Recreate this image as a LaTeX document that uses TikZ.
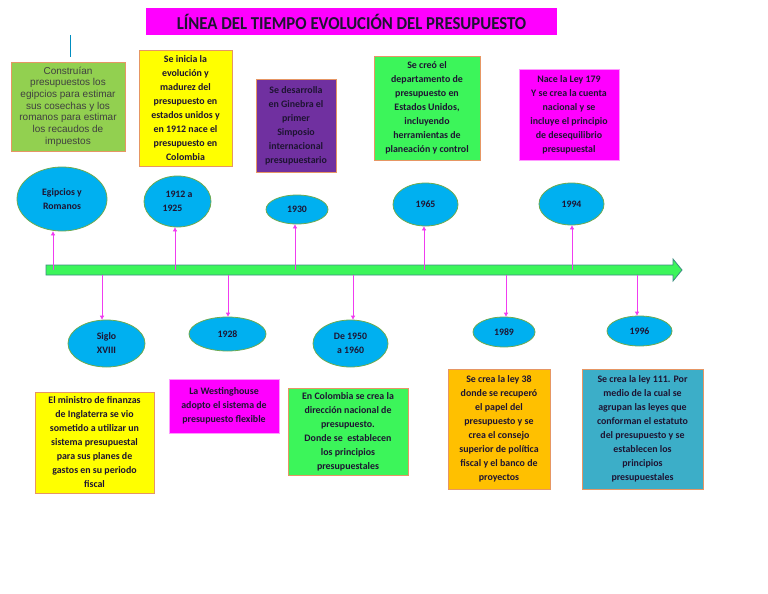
\documentclass[tikz,border=0pt]{standalone}
\usepackage{fontspec}
\setmainfont{Carlito}
\newfontfamily\arialfont{Liberation Sans}
\newfontfamily\titulofont[FakeStretch=0.92]{Carlito}
\usetikzlibrary{shapes.geometric, arrows.meta, positioning}
\definecolor{tinta}{RGB}{30,20,50}
\definecolor{celeste}{RGB}{0,176,240}
\definecolor{bordeverde}{RGB}{110,170,80}
\definecolor{bordenaranja}{RGB}{230,150,100}
\definecolor{rosa}{RGB}{240,60,240}
\definecolor{magenta}{RGB}{255,0,255}
\definecolor{amarillo}{RGB}{255,255,0}
\definecolor{oliva}{RGB}{146,208,80}
\definecolor{verdevivo}{RGB}{60,245,90}
\definecolor{morado}{RGB}{112,48,160}
\definecolor{naranja}{RGB}{255,192,0}
\definecolor{azulverde}{RGB}{60,174,200}
\definecolor{bordebarra}{RGB}{60,140,130}

\begin{document}
\begin{tikzpicture}[x=1pt, y=-1pt,
  hito/.style={ellipse, draw=bordeverde, fill=celeste, line width=0.8pt, inner sep=0pt,
    align=center, text=tinta, font=\bfseries\fontsize{9.8}{14}\selectfont},
  caja/.style={draw=bordenaranja, line width=0.8pt, inner sep=2pt, align=center,
    text=tinta, font=\bfseries\fontsize{9.9}{14}\selectfont},
  enlace/.style={draw=rosa, line width=0.8pt, -{Triangle[length=4pt, width=4pt]}}]
  \useasboundingbox[fill=white] (0,0) rectangle (768,594);

  % titulo
  \node[fill=magenta, minimum width=411pt, minimum height=27pt, text=tinta,
    font=\titulofont\bfseries\fontsize{18.2}{20}\selectfont] (titulo) at (351.5,21.5)
    {LÍNEA DEL TIEMPO EVOLUCIÓN DEL PRESUPUESTO};
  \draw[celeste!80!black, line width=0.8pt] (70,35) -- (70,57);

  % barra del tiempo
  \draw[bordebarra, line width=0.8pt, fill=verdevivo]
    (46,265) -- (673,265) -- (673,259) -- (682,270) -- (673,281) -- (673,275)
    -- (46,275) -- cycle;

  % cajas de arriba
  \node[caja, fill=oliva, minimum width=114pt, minimum height=89pt, text=black!75,
    font=\arialfont\fontsize{10}{11.7}\selectfont] (c1) at (68,106.5)
    {Construían\\presupuestos los\\egipcios para estimar\\sus cosechas y los\\romanos para estimar\\los recaudos de\\impuestos};
  \node[caja, fill=amarillo, minimum width=93pt, minimum height=116pt] (c2) at (185.5,108)
    {Se inicia la\\evolución y\\madurez del\\presupuesto en\\estados unidos y\\en 1912 nace el\\presupuesto en\\Colombia};
  \node[caja, fill=morado, minimum width=80pt, minimum height=93pt] (c3) at (296,125.5)
    {Se desarrolla\\en Ginebra el\\primer\\Simposio\\internacional\\presupuestario};
  \node[caja, fill=verdevivo, minimum width=106pt, minimum height=104pt] (c4) at (427,108)
    {Se creó el\\departamento de\\presupuesto en\\Estados Unidos,\\incluyendo\\herramientas de\\planeación y control};
  \node[caja, draw=magenta!40, fill=magenta, minimum width=100pt, minimum height=91pt] (c5) at (569,114.5)
    {Nace la Ley 179\\Y se crea la cuenta\\nacional y se\\incluye el principio\\de desequilibrio\\presupuestal};

  % cajas de abajo
  \node[caja, fill=amarillo, minimum width=119pt, minimum height=101pt] (c6) at (94.5,442.5)
    {El ministro de finanzas\\de Inglaterra se vio\\sometido a utilizar un\\sistema presupuestal\\para sus planes de\\gastos en su periodo\\fiscal};
  \node[caja, draw=magenta!40, fill=magenta, minimum width=110pt, minimum height=54pt] (c7) at (224,406)
    {La Westinghouse\\adopto el sistema de\\presupuesto flexible};
  \node[caja, fill=verdevivo, minimum width=120pt, minimum height=87pt] (c8) at (348,431.5)
    {En Colombia se crea la\\dirección nacional de\\presupuesto.\\Donde se \ establecen\\los principios\\presupuestales};
  \node[caja, fill=naranja, minimum width=102pt, minimum height=120pt] (c9) at (499,429)
    {Se crea la ley 38\\donde se recuperó\\el papel del\\presupuesto y se\\crea el consejo\\superior de política\\fiscal y el banco de\\proyectos};
  \node[caja, fill=azulverde, minimum width=121pt, minimum height=120pt] (c10) at (642.5,429)
    {Se crea la ley 111. Por\\medio de la cual se\\agrupan las leyes que\\conforman el estatuto\\del presupuesto y se\\establecen los\\principios\\presupuestales};

  % hitos de arriba
  \node[hito, minimum width=90pt, minimum height=64pt] (h1) at (62,199) {Egipcios y\\Romanos};
  \node[hito, minimum width=67pt, minimum height=51pt, align=left] (h2) at (177.5,201.5) {\hspace*{3pt}1912 a\\1925};
  \node[hito, minimum width=62pt, minimum height=29pt] (h3) at (297,209.5) {1930};
  \node[hito, minimum width=65pt, minimum height=43pt] (h4) at (425.5,204.5) {1965};
  \node[hito, minimum width=65pt, minimum height=42pt] (h5) at (571.5,204) {1994};

  % hitos de abajo
  \node[hito, minimum width=77pt, minimum height=47pt] (h6) at (106.5,343.5) {Siglo\\XVIII};
  \node[hito, minimum width=77pt, minimum height=34pt] (h7) at (227.5,334) {1928};
  \node[hito, minimum width=75pt, minimum height=47pt] (h8) at (350.5,343.5) {De 1950\\a 1960};
  \node[hito, minimum width=62pt, minimum height=30pt] (h9) at (504,332) {1989};
  \node[hito, minimum width=65pt, minimum height=30pt] (h10) at (639.5,331) {1996};

  % enlaces desde la barra
  \foreach \x/\h in {53/h1, 175/h2, 295/h3, 424/h4, 572/h5}{
    \coordinate (b\h) at (\x,270);
    \draw[enlace] (b\h) -- (b\h |- \h.south);
  }
  \foreach \x/\h in {102/h6, 228/h7, 353/h8, 506/h9, 637/h10}{
    \coordinate (b\h) at (\x,275);
    \draw[enlace] (b\h) -- (b\h |- \h.north);
  }
\end{tikzpicture}
\end{document}
